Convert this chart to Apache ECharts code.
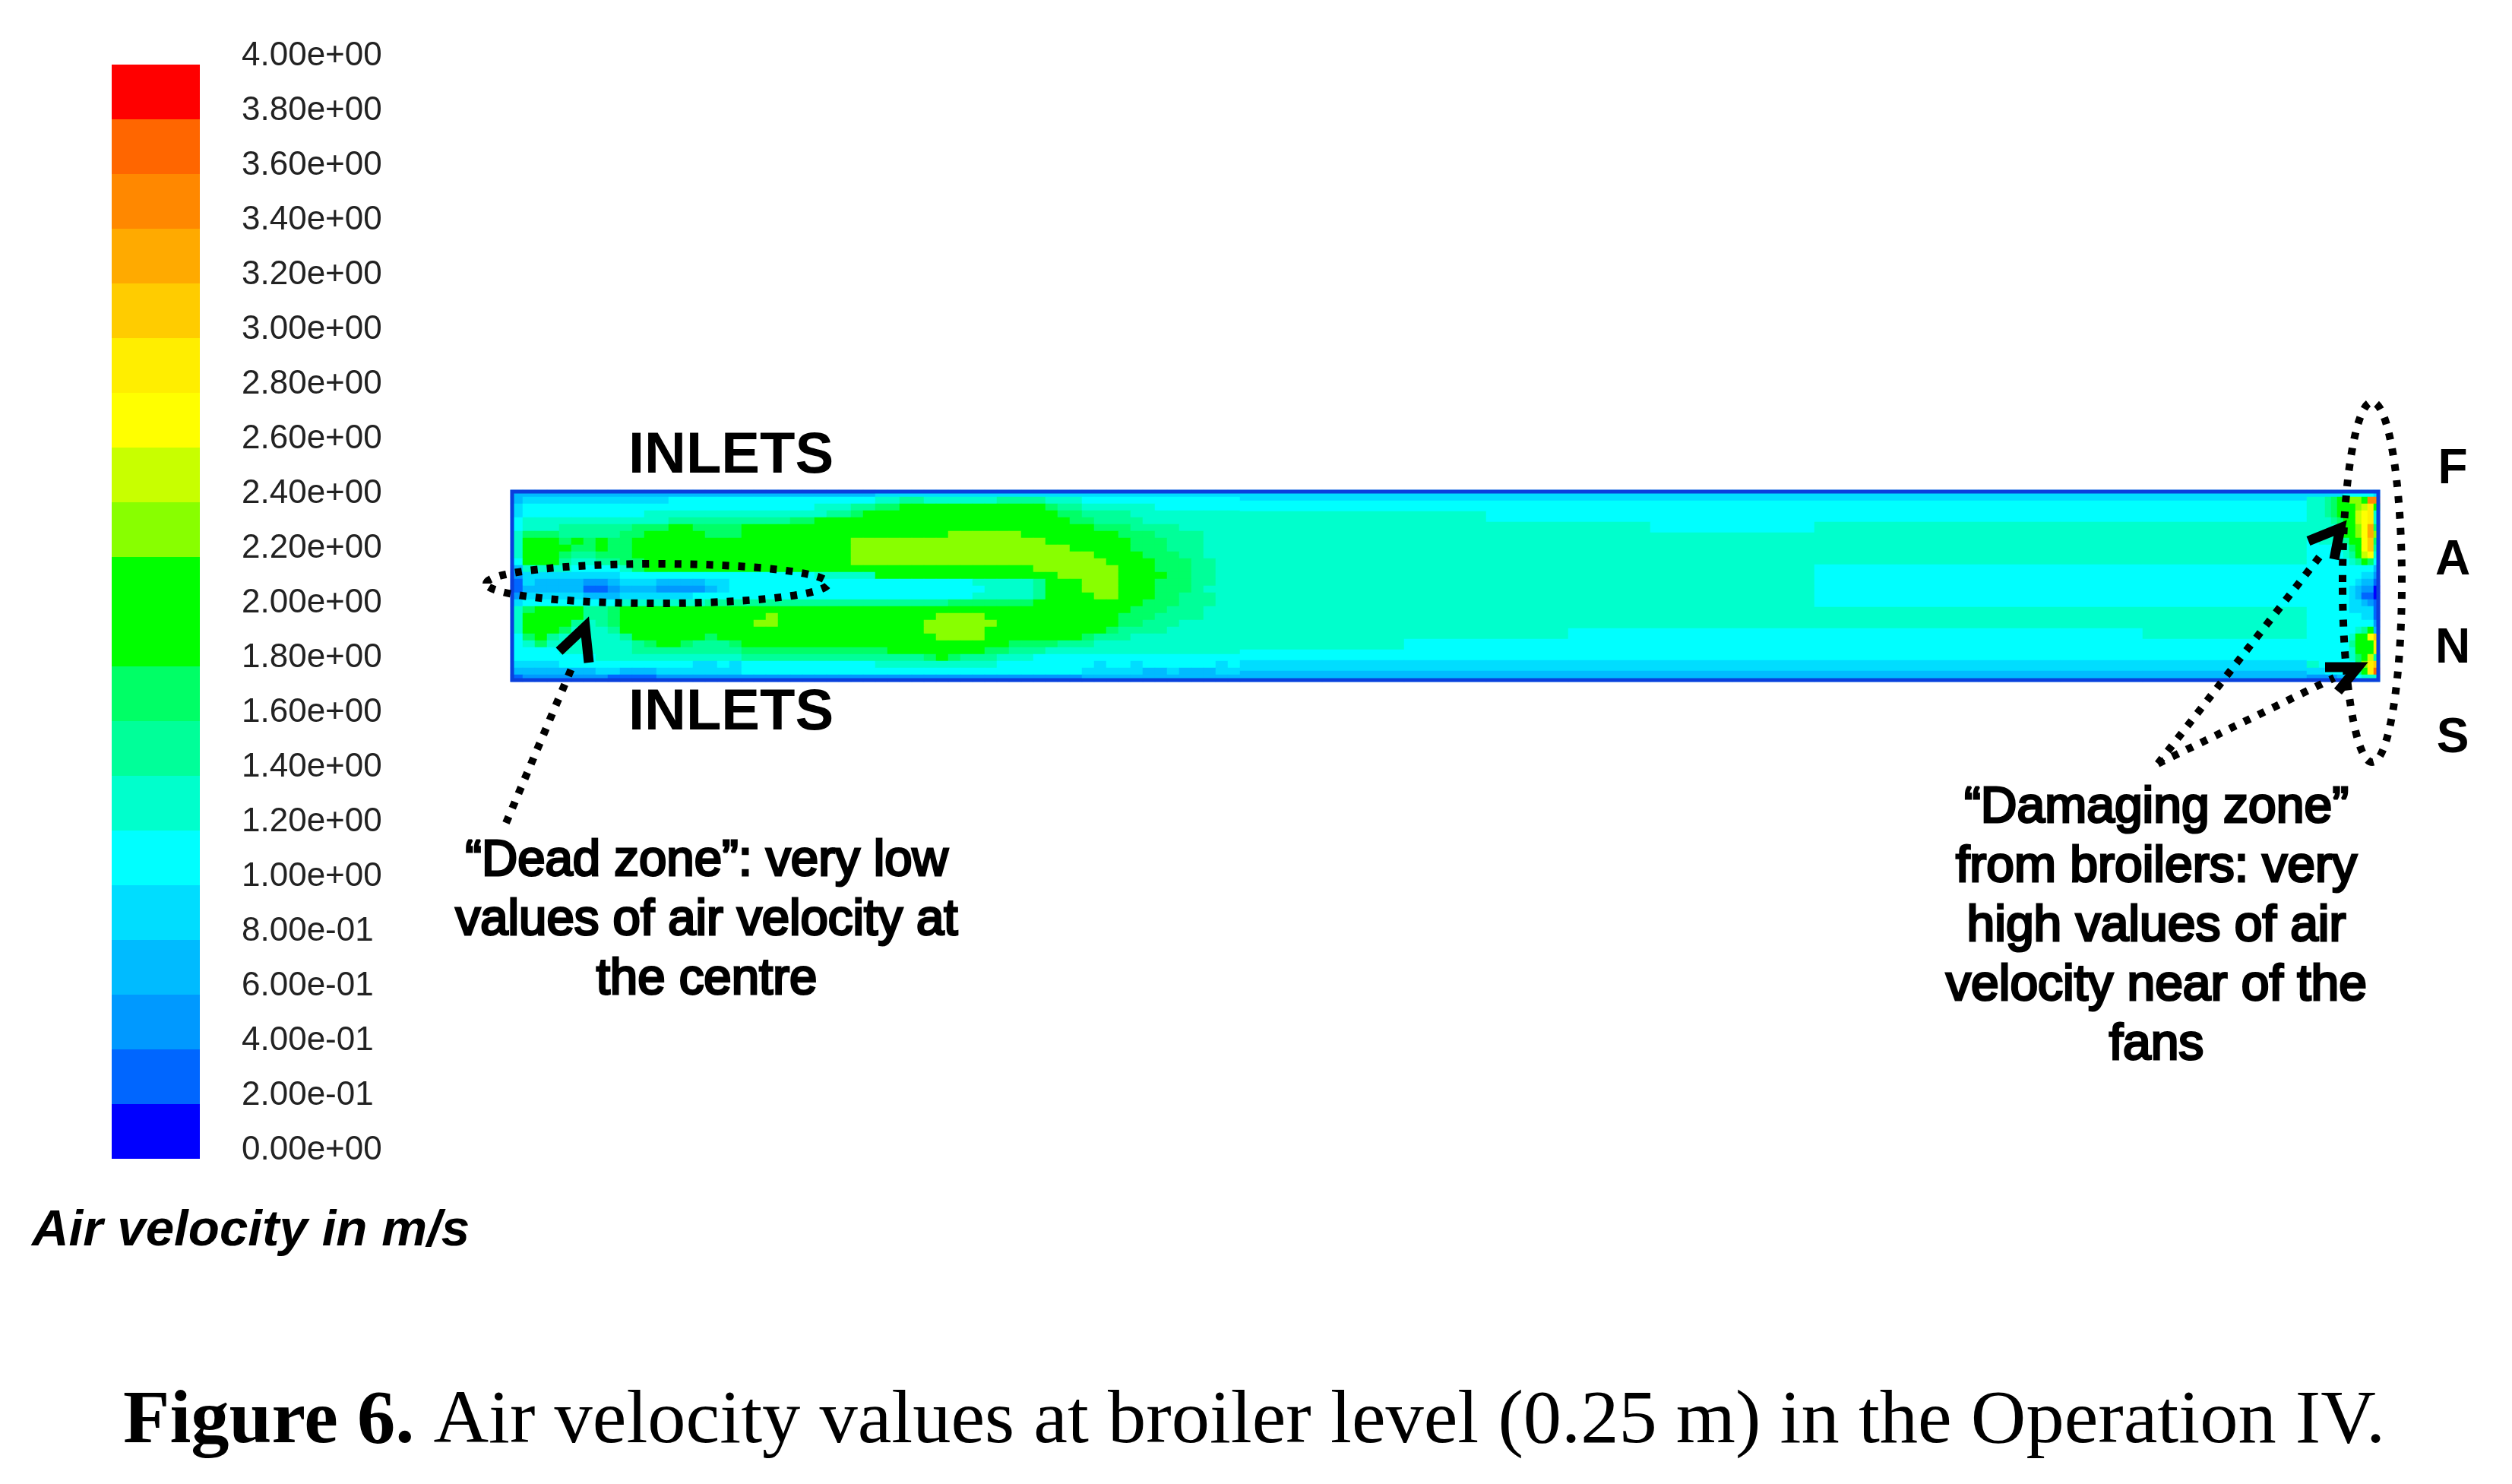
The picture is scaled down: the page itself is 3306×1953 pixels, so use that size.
<!DOCTYPE html>
<html>
<head>
<meta charset="utf-8">
<title>Air velocity at broiler level</title>
<style>html,body{margin:0;padding:0;background:#fff}#chart{width:3306px;height:1953px}</style>
<script src="https://cdn.jsdelivr.net/npm/echarts@6/dist/echarts.min.js"></script>
</head>
<body>
<div id="chart"></div>
<script>
// Band colours of the contour scale, 0.00 upward in 0.20 m/s steps
const bandColors = ['#0000ff','#0066ff','#0099ff','#00bbff','#00ddff','#00ffff','#00ffcc','#00ff99','#00ff66','#00ff00',
  '#00ff00','#88ff00','#c8ff00','#ffff00','#ffee00','#ffcc00','#ffaa00','#ff8800','#ff6600','#ff0000'];
const bandStep = 0.2;
const tickLabels = ['0.00e+00','2.00e-01','4.00e-01','6.00e-01','8.00e-01','1.00e+00','1.20e+00','1.40e+00','1.60e+00','1.80e+00',
  '2.00e+00','2.20e+00','2.40e+00','2.60e+00','2.80e+00','3.00e+00','3.20e+00','3.40e+00','3.60e+00','3.80e+00','4.00e+00'];

// Air velocity (m/s), top row first. First stretch behind the inlets.
const inletNearField = [
[.7,.7,.7,.7,.7,.7,.7,.7,.7,.7,.7,.7,.7,.7,.7,.7,.7,.7,.7,.7,.7,.7,.7,.7,.7,.7,.7,.7,.7,.7],
[.7,.9,.9,.9,.9,.9,.9,.9,.9,.9,.9,.9,.9,1.1,1.1,1.1,1.1,1.1,1.1,1.1,1.1,1.1,1.1,1.1,1.1,1.1,1.1,1.1,1.1,1.1],
[.9,1.1,1.1,1.1,1.1,1.1,1.1,1.1,1.1,1.1,1.1,1.1,1.1,1.1,1.1,1.1,1.1,1.1,1.1,1.1,1.1,1.1,1.1,1.1,1.1,1.3,1.3,1.3,1.5,1.5],
[.9,1.1,1.1,1.1,1.1,1.1,1.1,1.1,1.1,1.1,1.1,1.3,1.3,1.3,1.3,1.3,1.3,1.3,1.3,1.3,1.3,1.3,1.3,1.3,1.3,1.3,1.5,1.5,1.7,1.9],
[1.1,1.3,1.3,1.3,1.3,1.3,1.3,1.3,1.3,1.3,1.3,1.3,1.3,1.5,1.5,1.5,1.5,1.5,1.5,1.5,1.5,1.5,1.5,1.7,1.7,1.9,1.9,1.9,1.9,1.9],
[1.1,1.3,1.3,1.3,1.5,1.5,1.5,1.5,1.5,1.5,1.7,1.7,1.7,1.9,1.9,1.7,1.7,1.7,1.7,1.9,1.9,1.9,1.9,1.9,1.9,1.9,1.9,1.9,1.9,1.9],
[1.3,1.7,1.7,1.7,1.5,1.5,1.5,1.5,1.5,1.7,1.7,1.9,1.9,1.9,1.9,1.9,1.7,1.7,1.7,1.9,1.9,1.9,1.9,1.9,1.9,1.9,1.9,1.9,1.9,1.9],
[1.3,1.9,1.9,1.9,1.7,1.9,1.7,1.9,1.7,1.7,1.9,1.9,1.9,1.9,1.9,1.9,1.9,1.9,1.9,1.9,1.9,1.9,1.9,1.9,1.9,1.9,1.9,1.9,2.3,2.3],
[1.3,1.9,1.9,1.9,1.9,1.7,1.7,1.9,1.7,1.7,1.9,1.9,1.9,1.9,1.9,1.9,1.9,1.9,1.9,1.9,1.9,1.9,1.9,1.9,1.9,1.9,1.9,1.9,2.3,2.3],
[1.3,1.9,1.9,1.9,1.7,1.5,1.5,1.7,1.7,1.7,1.9,1.9,1.9,1.9,1.9,1.9,1.9,1.9,1.9,1.9,1.9,1.9,1.9,1.9,1.9,1.9,1.9,1.9,2.3,2.3],
[1.1,1.9,1.9,1.9,1.5,1.3,1.3,1.5,1.5,1.7,1.7,1.9,1.9,1.9,1.9,1.9,1.9,1.9,1.9,1.9,1.9,1.9,1.9,1.9,1.9,1.9,1.9,1.9,2.3,2.3],
[.7,1.3,1.3,1.3,1.3,1.1,1.1,1.1,1.1,1.3,1.7,1.9,1.9,1.9,1.9,1.9,1.9,1.9,1.9,1.9,1.9,1.9,1.9,1.9,1.9,1.9,1.9,1.9,1.9,1.9],
[.5,.9,.9,.9,.9,.9,.9,.9,.9,1.1,1.1,1.1,1.1,1.1,1.1,1.1,1.1,1.1,1.1,1.1,1.1,1.1,1.1,1.1,1.1,1.3,1.3,1.3,1.3,1.3],
[.3,.9,.7,.7,.7,.7,.5,.5,.7,.9,.9,.9,.7,.7,.7,.7,.9,.9,1.1,1.1,1.1,1.1,1.1,1.1,1.1,1.1,1.1,1.1,1.1,1.1],
[.3,.7,.7,.7,.7,.7,.3,.3,.5,.7,.7,.7,.5,.5,.5,.5,.7,.9,1.1,1.1,1.1,1.1,1.1,1.1,1.1,1.1,1.1,1.1,1.1,1.1],
[.5,.9,.9,.9,.9,.9,.7,.7,.7,.9,.9,.9,.9,.9,.9,1.1,1.1,1.1,1.1,1.1,1.1,1.1,1.1,1.1,1.1,1.1,1.1,1.1,1.1,1.1],
[.9,1.1,1.1,1.1,1.1,1.1,1.1,1.1,1.1,1.3,1.3,1.3,1.3,1.3,1.3,1.3,1.5,1.5,1.5,1.5,1.5,1.5,1.5,1.5,1.5,1.5,1.5,1.5,1.5,1.5],
[1.3,1.7,1.9,1.9,1.9,1.9,1.5,1.5,1.7,1.9,1.9,1.9,1.9,1.9,1.9,1.9,1.9,1.9,1.9,1.9,1.9,1.9,1.9,1.9,1.9,1.9,1.9,1.9,1.9,1.9],
[1.3,1.9,1.9,1.9,1.9,1.9,1.5,1.5,1.7,1.9,1.9,1.9,1.9,1.9,1.9,1.9,1.9,1.9,1.9,1.9,1.9,2.3,1.9,1.9,1.9,1.9,1.9,1.9,1.9,1.9],
[1.3,1.9,1.9,1.9,1.9,1.5,1.3,1.5,1.7,1.9,1.9,1.9,1.9,1.9,1.9,1.9,1.9,1.9,1.9,1.9,2.3,2.3,1.9,1.9,1.9,1.9,1.9,1.9,1.9,1.9],
[1.3,1.9,1.9,1.9,1.7,1.3,1.3,1.3,1.5,1.9,1.9,1.9,1.9,1.9,1.9,1.9,1.9,1.9,1.9,1.9,1.9,1.9,1.9,1.9,1.9,1.9,1.9,1.9,1.9,1.9],
[1.1,1.7,1.9,1.5,1.3,1.3,1.3,1.3,1.3,1.5,1.9,1.9,1.9,1.9,1.9,1.9,1.7,1.9,1.9,1.9,1.9,1.9,1.9,1.9,1.9,1.9,1.9,1.9,1.9,1.9],
[1.1,1.3,1.7,1.3,1.3,1.3,1.3,1.3,1.3,1.3,1.5,1.7,1.9,1.9,1.7,1.5,1.5,1.5,1.7,1.9,1.9,1.9,1.9,1.9,1.9,1.9,1.9,1.9,1.9,1.9],
[1.1,1.1,1.1,1.1,1.3,1.3,1.3,1.3,1.3,1.3,1.5,1.5,1.5,1.5,1.5,1.5,1.5,1.5,1.5,1.7,1.7,1.7,1.7,1.7,1.7,1.7,1.7,1.7,1.7,1.7],
[1.1,1.1,1.1,1.1,1.1,1.1,1.1,1.3,1.3,1.3,1.3,1.3,1.3,1.3,1.3,1.3,1.3,1.3,1.3,1.5,1.5,1.5,1.5,1.5,1.5,1.5,1.5,1.5,1.5,1.5],
[.9,.9,.9,.9,1.1,1.1,1.1,1.1,1.1,1.1,1.1,1.1,1.1,1.1,1.1,.9,.9,1.1,.9,1.1,1.1,1.1,1.1,1.1,1.1,1.1,1.1,1.1,1.1,1.1],
[.7,.7,.7,.7,.7,.7,.7,.9,.9,.7,.7,.7,.9,.9,.9,.9,.9,.9,.9,1.1,1.1,1.1,1.1,1.1,1.1,1.1,1.1,1.1,1.1,1.1],
[.3,.5,.5,.5,.5,.5,.5,.5,.3,.3,.3,.3,.5,.5,.5,.5,.5,.5,.5,.5,.5,.5,.5,.5,.5,.5,.5,.5,.5,.5]
];

// Second stretch, with the main jet and its turn-back
const inletFarField = [
[.9,.9,.9,.9,.9,.9,.9,.9,.9,.9,.9,.9,.9,.9,.9,.9,.9,.9,.9,.9,.9,.9,.9,.9,.9,.9,.9,.9,.9,.9],
[1.3,1.3,1.5,1.5,1.3,1.3,1.3,1.3,1.3,1.3,1.5,1.5,1.5,1.5,1.3,1.3,1.3,1.1,1.1,1.1,1.1,1.1,1.1,1.1,1.1,1.1,1.1,1.1,1.1,1.1],
[1.7,1.7,1.9,1.9,1.9,1.9,1.9,1.9,1.9,1.9,1.9,1.9,1.9,1.9,1.7,1.5,1.5,1.3,1.3,1.3,1.3,1.3,1.3,1.1,1.1,1.1,1.1,1.1,1.1,1.1],
[1.9,1.9,1.9,1.9,1.9,1.9,1.9,1.9,1.9,1.9,1.9,1.9,1.9,1.9,1.9,1.7,1.7,1.5,1.5,1.5,1.5,1.3,1.3,1.3,1.3,1.3,1.3,1.3,1.3,1.3],
[1.9,1.9,1.9,1.9,1.9,1.9,1.9,1.9,1.9,1.9,1.9,1.9,1.9,1.9,1.9,1.9,1.7,1.7,1.5,1.5,1.5,1.5,1.3,1.3,1.3,1.3,1.3,1.3,1.3,1.3],
[1.9,1.9,1.9,1.9,1.9,1.9,1.9,1.9,1.9,1.9,1.9,1.9,1.9,1.9,1.9,1.9,1.9,1.9,1.7,1.7,1.7,1.5,1.5,1.5,1.5,1.3,1.3,1.3,1.3,1.3],
[1.9,1.9,1.9,1.9,1.9,1.9,2.3,2.3,2.3,2.3,2.3,2.3,1.9,1.9,1.9,1.9,1.9,1.9,1.9,1.9,1.7,1.7,1.7,1.5,1.5,1.5,1.5,1.3,1.3,1.3],
[2.3,2.3,2.3,2.3,2.3,2.3,2.3,2.3,2.3,2.3,2.3,2.3,2.3,2.3,1.9,1.9,1.9,1.9,1.9,1.9,1.9,1.7,1.7,1.7,1.5,1.5,1.5,1.3,1.3,1.3],
[2.3,2.3,2.3,2.3,2.3,2.3,2.3,2.3,2.3,2.3,2.3,2.3,2.3,2.3,2.3,2.3,1.9,1.9,1.9,1.9,1.9,1.7,1.7,1.7,1.5,1.5,1.5,1.3,1.3,1.3],
[2.3,2.3,2.3,2.3,2.3,2.3,2.3,2.3,2.3,2.3,2.3,2.3,2.3,2.3,2.3,2.3,2.3,2.3,1.9,1.9,1.9,1.9,1.7,1.7,1.7,1.5,1.5,1.3,1.3,1.3],
[2.3,2.3,2.3,2.3,2.3,2.3,2.3,2.3,2.3,2.3,2.3,2.3,2.3,2.3,2.3,2.3,2.3,2.3,2.3,1.9,1.9,1.9,1.9,1.7,1.7,1.7,1.5,1.5,1.3,1.3],
[1.9,1.9,1.9,1.9,1.9,1.9,1.9,1.9,1.9,1.9,1.9,1.9,1.9,2.3,2.3,2.3,2.3,2.3,2.3,2.3,1.9,1.9,1.9,1.7,1.7,1.7,1.5,1.5,1.3,1.3],
[1.9,1.9,1.9,1.9,1.9,1.9,1.9,1.9,1.9,1.9,1.9,1.9,1.9,1.9,1.9,2.3,2.3,2.3,2.3,2.3,1.9,1.9,1.9,1.9,1.7,1.7,1.5,1.5,1.3,1.3],
[1.1,1.1,1.1,1.1,1.1,1.1,1.1,1.1,1.3,1.3,1.3,1.3,1.3,1.5,1.9,1.9,1.9,2.3,2.3,2.3,1.9,1.9,1.9,1.7,1.7,1.7,1.5,1.5,1.3,1.3],
[1.1,1.1,1.1,1.1,1.1,1.1,1.1,1.1,1.1,1.3,1.3,1.3,1.3,1.5,1.9,1.9,1.9,2.3,2.3,2.3,1.9,1.9,1.9,1.7,1.7,1.7,1.5,1.3,1.3,1.3],
[1.1,1.1,1.1,1.1,1.1,1.1,1.1,1.1,1.3,1.3,1.3,1.3,1.3,1.5,1.9,1.9,1.9,1.9,2.3,2.3,1.9,1.9,1.9,1.7,1.7,1.5,1.5,1.5,1.3,1.3],
[1.5,1.5,1.5,1.5,1.5,1.5,1.7,1.7,1.7,1.7,1.7,1.7,1.7,1.9,1.9,1.9,1.9,1.9,1.9,1.9,1.9,1.9,1.7,1.7,1.7,1.5,1.5,1.5,1.3,1.3],
[1.9,1.9,1.9,1.9,1.9,1.9,1.9,1.9,1.9,1.9,1.9,1.9,1.9,1.9,1.9,1.9,1.9,1.9,1.9,1.9,1.9,1.7,1.7,1.7,1.5,1.5,1.5,1.3,1.3,1.3],
[1.9,1.9,1.9,1.9,1.9,2.3,2.3,2.3,2.3,1.9,1.9,1.9,1.9,1.9,1.9,1.9,1.9,1.9,1.9,1.9,1.7,1.7,1.7,1.5,1.5,1.5,1.5,1.3,1.3,1.3],
[1.9,1.9,1.9,1.9,2.3,2.3,2.3,2.3,2.3,2.3,1.9,1.9,1.9,1.9,1.9,1.9,1.9,1.9,1.9,1.9,1.7,1.7,1.5,1.5,1.5,1.3,1.3,1.3,1.3,1.3],
[1.9,1.9,1.9,1.9,2.3,2.3,2.3,2.3,2.3,1.9,1.9,1.9,1.9,1.9,1.9,1.9,1.9,1.9,1.9,1.7,1.5,1.5,1.5,1.5,1.3,1.3,1.3,1.3,1.3,1.3],
[1.9,1.9,1.9,1.9,1.9,2.3,2.3,2.3,2.3,1.9,1.9,1.9,1.9,1.9,1.9,1.9,1.9,1.7,1.5,1.5,1.5,1.3,1.3,1.3,1.3,1.3,1.3,1.3,1.3,1.3],
[1.9,1.9,1.9,1.9,1.9,1.9,1.9,1.9,1.9,1.9,1.9,1.7,1.7,1.7,1.7,1.5,1.5,1.5,1.3,1.3,1.3,1.3,1.3,1.3,1.3,1.3,1.3,1.3,1.3,1.3],
[1.7,1.9,1.9,1.9,1.9,1.9,1.9,1.9,1.9,1.7,1.7,1.5,1.5,1.5,1.3,1.3,1.3,1.3,1.3,1.3,1.3,1.3,1.3,1.3,1.3,1.3,1.3,1.3,1.3,1.3],
[1.5,1.5,1.5,1.5,1.7,1.9,1.7,1.5,1.5,1.5,1.3,1.3,1.3,1.1,1.1,1.1,1.1,1.1,1.1,1.1,1.1,1.1,1.1,1.1,1.1,1.1,1.1,1.1,1.1,1.1],
[1.3,1.3,1.3,1.3,1.3,1.3,1.3,1.3,1.3,1.3,1.1,1.1,1.1,1.1,1.1,1.1,1.1,1.1,.9,1.1,1.1,.9,1.1,1.1,1.1,1.1,1.1,1.1,.9,1.1],
[1.1,1.1,1.1,1.1,1.1,1.1,1.1,1.1,1.1,1.1,1.1,1.1,1.1,1.1,1.1,1.1,1.1,.9,.9,.9,.9,.9,.7,.7,.9,.7,.7,.7,.9,.9],
[.5,.5,.5,.5,.5,.5,.5,.5,.5,.5,.5,.5,.5,.5,.5,.5,.5,.7,.7,.7,.7,.7,.7,.7,.7,.7,.7,.7,.7,.7]
];

// Long middle stretch of the house
const middleField = [
[.9,.9,.9,.9,.9,.9,.9,.9,.9,.9,.9,.9,.9],
[1.1,1.1,1.1,1.1,1.1,1.1,1.1,1.1,1.1,1.1,1.1,1.1,1.1],
[1.3,1.3,1.3,1.1,1.1,1.1,1.1,1.1,1.1,1.1,1.1,1.1,1.1],
[1.3,1.3,1.3,1.3,1.3,1.1,1.1,1.3,1.3,1.3,1.3,1.3,1.3],
[1.3,1.3,1.3,1.3,1.3,1.3,1.3,1.3,1.3,1.3,1.3,1.3,1.3],
[1.3,1.3,1.3,1.3,1.3,1.3,1.3,1.3,1.3,1.3,1.3,1.3,1.3],
[1.3,1.3,1.3,1.3,1.3,1.3,1.3,1.3,1.3,1.3,1.3,1.3,1.3],
[1.3,1.3,1.3,1.3,1.3,1.3,1.3,1.1,1.1,1.1,1.1,1.1,1.1],
[1.3,1.3,1.3,1.3,1.3,1.3,1.3,1.1,1.1,1.1,1.1,1.1,1.1],
[1.3,1.3,1.3,1.3,1.3,1.3,1.3,1.1,1.1,1.1,1.1,1.1,1.1],
[1.3,1.3,1.3,1.3,1.3,1.3,1.3,1.1,1.1,1.1,1.1,1.1,1.1],
[1.3,1.3,1.3,1.3,1.3,1.3,1.3,1.3,1.3,1.3,1.3,1.3,1.3],
[1.3,1.3,1.3,1.3,1.3,1.3,1.3,1.3,1.3,1.3,1.3,1.3,1.3],
[1.3,1.3,1.3,1.3,1.1,1.1,1.1,1.1,1.1,1.1,1.1,1.3,1.3],
[1.3,1.3,1.1,1.1,1.1,1.1,1.1,1.1,1.1,1.1,1.1,1.1,1.1],
[1.1,1.1,1.1,1.1,1.1,1.1,1.1,1.1,1.1,1.1,1.1,1.1,1.1],
[.9,.9,.9,.9,.9,.9,.9,.9,.9,.9,.9,.9,.9],
[.7,.7,.7,.7,.7,.7,.7,.7,.7,.7,.7,.7,.7]
];

// Fan end of the house
const fanField = [
[.9,.9,.9,.9,.9,.9,1.1,1.1,1.1,1.1,1.1,.9],
[1.3,1.3,1.3,1.5,1.7,1.9,1.9,2.3,2.3,1.9,3.5,3.5],
[1.3,1.3,1.3,1.5,1.7,1.9,1.9,1.9,2.3,2.5,2.9,1.9],
[1.3,1.3,1.3,1.5,1.7,1.9,1.9,1.9,2.5,2.7,2.9,1.3],
[1.3,1.3,1.3,1.3,1.5,1.7,1.9,1.9,2.5,2.7,2.9,1.3],
[1.3,1.3,1.3,1.3,1.3,1.5,1.9,1.9,2.3,2.7,3.3,1.7],
[1.3,1.3,1.3,1.3,1.3,1.3,1.9,1.9,2.3,2.7,3.3,2.3],
[1.1,1.1,1.3,1.3,1.3,1.3,1.5,1.9,2.1,2.7,3.1,1.7],
[1.1,1.1,1.1,1.1,1.1,1.3,1.3,1.7,1.9,2.7,3.1,1.5],
[1.1,1.1,1.1,1.1,1.1,1.1,1.3,1.5,1.9,2.5,2.7,1.3],
[1.1,1.1,1.1,1.1,1.1,1.1,1.1,1.3,1.5,1.9,1.7,1.1],
[1.1,1.1,1.1,1.1,1.1,1.1,1.1,1.1,1.1,1.1,1.1,.7],
[1.1,1.1,1.1,1.1,1.1,1.1,1.1,1.1,1.1,.9,.9,.5],
[1.1,1.1,1.1,1.1,1.1,1.1,1.1,1.1,.9,.7,.7,.3],
[1.1,1.1,1.1,1.1,1.1,1.1,1.1,.9,.7,.5,.5,.1],
[1.1,1.1,1.1,1.1,1.1,1.1,1.1,.9,.7,.3,.3,.1],
[1.1,1.1,1.1,1.1,1.1,1.1,1.1,.9,.9,.7,.5,.3],
[1.1,1.1,1.1,1.1,1.1,1.1,1.1,.9,.9,.9,.9,.3],
[1.1,1.1,1.1,1.1,1.1,1.1,1.1,1.1,1.1,.9,.9,.3],
[1.1,1.1,1.1,1.1,1.1,1.1,1.1,1.1,1.1,1.1,1.1,.5],
[1.1,1.1,1.1,1.1,1.1,1.1,1.1,1.1,1.3,1.5,1.9,.7],
[1.1,1.1,1.1,1.1,1.1,1.1,1.1,1.3,1.9,1.9,2.7,3.1],
[1.1,1.1,1.1,1.1,1.1,1.1,1.1,1.5,1.9,1.9,1.9,2.9],
[1.1,1.1,1.1,1.1,1.1,1.1,1.1,1.3,1.9,1.9,1.9,2.9],
[1.1,1.1,1.1,1.1,1.1,1.1,1.1,1.3,1.7,1.9,2.5,1.5],
[1.3,1.3,1.1,1.1,1.1,1.1,1.1,1.1,1.7,2.3,2.9,3.1],
[.9,.9,.9,1.1,1.1,1.1,1.1,1.1,1.5,1.9,2.9,3.7],
[.5,.5,.5,.5,.5,.7,.7,.7,1.1,1.3,1.3,1.3]
];

const legendTitle = 'Air velocity in m/s';
const inletsLabel = 'INLETS';
const fanLetters = ['F','A','N','S'];
const deadZoneLines = ['\u201cDead zone\u201d: very low','values of air velocity at','the centre'];
const damageLines = ['\u201cDamaging zone\u201d','from broilers: very','high values of air','velocity near of the','fans'];
const captionBold = 'Figure 6.';
const captionRest = ' Air velocity values at broiler level (0.25 m) in the Operation IV.';

const sans = '"Liberation Sans", Arial, sans-serif';
const idx = n => Array.from({length:n},(_,i)=>i);
const toCells = f => f.flatMap((row,r)=>row.map((v,c)=>[c,r,v]));
const pieces = bandColors.map((color,i)=>({gte:+(i*bandStep).toFixed(1),lt:+((i+1)*bandStep).toFixed(1),color}));

function txt(text,x,y,size,opt={}){
  return {type:'text',x,y,scaleX:opt.sx||1,scaleY:opt.sy||1,z:20,style:{text,x:0,y:0,
    font:(opt.style||'')+' '+(opt.weight||'normal')+' '+size+'px '+(opt.family||sans),
    fill:'#000',stroke:opt.sw?'#000':null,lineWidth:opt.sw||0,
    textAlign:opt.align||'center',textVerticalAlign:'middle'}};
}
const dot = {stroke:'#000',fill:null,lineWidth:10,lineDash:[9,12]};
const solid = {stroke:'#000',fill:null,lineWidth:13,lineJoin:'miter'};
function dotted(a,b){return {type:'line',z:21,shape:{x1:a[0],y1:a[1],x2:b[0],y2:b[1]},style:dot};}
function head(pts){return {type:'polyline',z:21,shape:{points:pts},style:solid};}

const graphics = [
  {type:'rect',z:15,shape:{x:674,y:647,width:2456,height:248},style:{fill:null,stroke:'#0a3fdc',lineWidth:5}},
  txt(inletsLabel,962,601,76,{weight:'bold'}),
  txt(inletsLabel,962,939,76,{weight:'bold'}),
  ...fanLetters.map((t,i)=>txt(t,3228,[618,738,854,972][i],64,{weight:'bold'})),
  ...deadZoneLines.map((t,i)=>txt(t,930,1134+i*78,66,{sx:.99,sw:3})),
  ...damageLines.map((t,i)=>txt(t,2838,1064+i*78,66,{sx:1.0,sw:3})),
  txt(legendTitle,42,1621,66,{align:'left',style:'italic',weight:'bold',sx:1.02}),
  {type:'text',x:162,y:1872,z:20,style:{
    text:'{b|'+captionBold+'}{r|'+captionRest+'}',x:0,y:0,textAlign:'left',textVerticalAlign:'middle',
    rich:{b:{font:'bold 100.5px "Liberation Serif", serif',fill:'#000'},r:{font:'normal 100.5px "Liberation Serif", serif',fill:'#000'}}}},
  {type:'ellipse',z:21,shape:{cx:865,cy:768,rx:225,ry:26},style:dot},
  {type:'ellipse',z:21,shape:{cx:3122,cy:766,rx:39,ry:237},style:dot},
  dotted([666,1083],[752,880]),
  head([[736,857],[770,825],[775,872]]),
  dotted([2840,1005],[3058,726]),
  head([[3038,712],[3080,695],[3072,736]]),
  dotted([2840,1005],[3072,892]),
  head([[3060,878],[3103,878],[3077,910]])
];

function heatSeries(field,i){
  return {type:'heatmap',xAxisIndex:i,yAxisIndex:i,data:toCells(field),progressive:0,silent:true,emphasis:{disabled:true},itemStyle:{borderWidth:0}};
}
const heatGrids = [
  {left:672,top:645,width:480,height:252},
  {left:1152,top:645,width:480,height:252},
  {left:1632,top:645,width:1404,height:252},
  {left:3036,top:645,width:96,height:252}
];
const fields = [inletNearField,inletFarField,middleField,fanField];
const S = fields.length;

const option = {
  backgroundColor:'#fff',
  animation:false,
  grid:[...heatGrids,{left:147,top:85,width:116,height:1440}],
  xAxis:[
    ...fields.map((f,i)=>({gridIndex:i,type:'category',show:false,data:idx(f[0].length)})),
    {gridIndex:S,type:'category',show:false,data:['scale']}
  ],
  yAxis:[
    ...fields.map((f,i)=>({gridIndex:i,type:'category',show:false,inverse:true,data:idx(f.length)})),
    {gridIndex:S,type:'value',position:'right',min:0,max:4,interval:bandStep,splitLine:{show:false},
      axisLine:{show:false},axisTick:{show:false},
      axisLabel:{show:true,margin:55,fontSize:44,lineHeight:22,verticalAlign:'bottom',color:'#222',fontFamily:sans,align:'left',
        showMinLabel:true,showMaxLabel:true,
        formatter:v=>tickLabels[Math.round(v/bandStep)]}}
  ],
  visualMap:{show:false,type:'piecewise',seriesIndex:idx(S),dimension:2,pieces},
  series:[
    ...fields.map(heatSeries),
    ...bandColors.map(color=>({type:'bar',xAxisIndex:S,yAxisIndex:S,stack:'scale',barWidth:'100%',silent:true,
      data:[bandStep],itemStyle:{color}}))
  ],
  graphic:graphics
};
const chart = echarts.init(document.getElementById('chart'),null,{renderer:'canvas'});
chart.setOption(option);
</script>
</body>
</html>
